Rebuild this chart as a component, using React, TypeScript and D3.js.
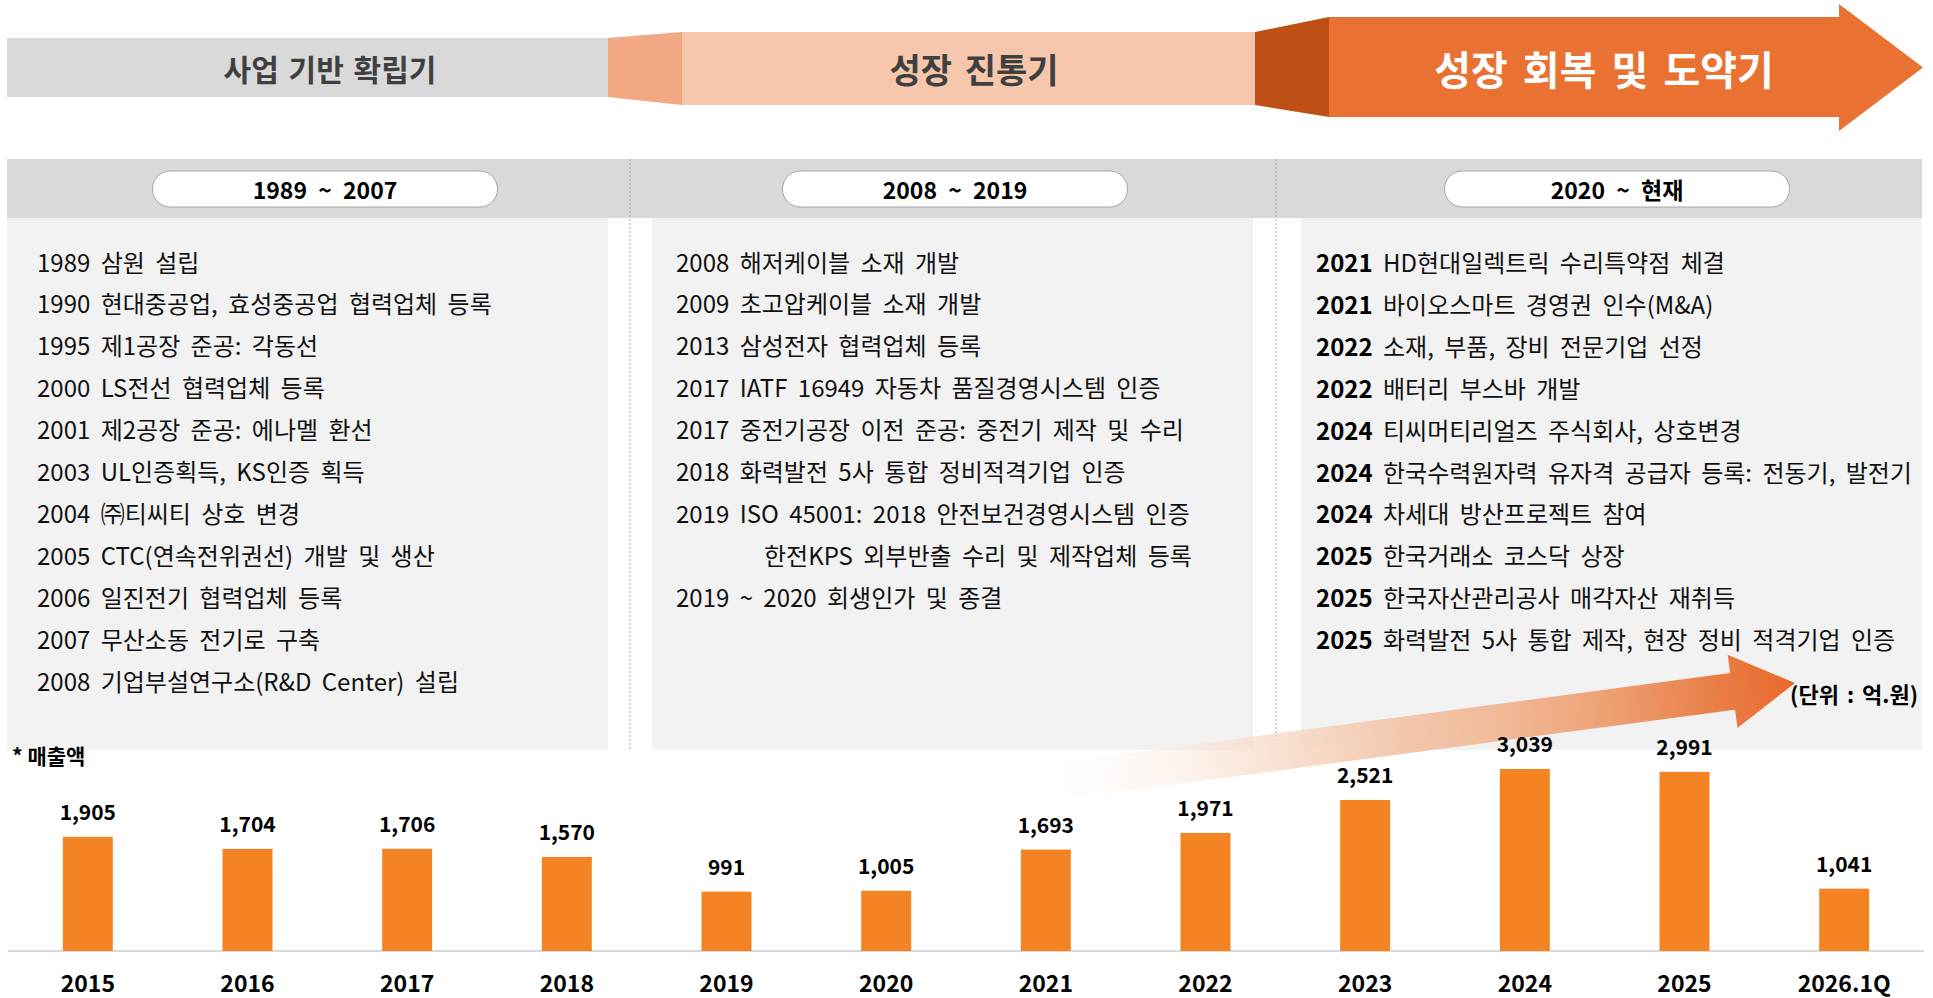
import React from 'react';
import * as d3 from 'd3';

// ---- data ----
const stageLabels = ['사업 기반 확립기', '성장 진통기', '성장 회복 및 도약기'];
const periodLabels = ['1989 ~ 2007', '2008 ~ 2019', '2020 ~ 현재'];

const history1 = [
  '1989 삼원 설립',
  '1990 현대중공업, 효성중공업 협력업체 등록',
  '1995 제1공장 준공: 각동선',
  '2000 LS전선 협력업체 등록',
  '2001 제2공장 준공: 에나멜 환선',
  '2003 UL인증획득, KS인증 획득',
  '2004 ㈜티씨티 상호 변경',
  '2005 CTC(연속전위권선) 개발 및 생산',
  '2006 일진전기 협력업체 등록',
  '2007 무산소동 전기로 구축',
  '2008 기업부설연구소(R&D Center) 설립',
];
const history2 = [
  '2008 해저케이블 소재 개발',
  '2009 초고압케이블 소재 개발',
  '2013 삼성전자 협력업체 등록',
  '2017 IATF 16949 자동차 품질경영시스템 인증',
  '2017 중전기공장 이전 준공: 중전기 제작 및 수리',
  '2018 화력발전 5사 통합 정비적격기업 인증',
  '2019 ISO 45001: 2018 안전보건경영시스템 인증',
  '한전KPS 외부반출 수리 및 제작업체 등록',
  '2019 ~ 2020 회생인가 및 종결',
];
const history2Indented = [false, false, false, false, false, false, false, true, false];
const history3Years = ['2021', '2021', '2022', '2022', '2024', '2024', '2024', '2025', '2025', '2025'];
const history3Texts = [
  'HD현대일렉트릭 수리특약점 체결',
  '바이오스마트 경영권 인수(M&A)',
  '소재, 부품, 장비 전문기업 선정',
  '배터리 부스바 개발',
  '티씨머티리얼즈 주식회사, 상호변경',
  '한국수력원자력 유자격 공급자 등록: 전동기, 발전기',
  '차세대 방산프로젝트 참여',
  '한국거래소 코스닥 상장',
  '한국자산관리공사 매각자산 재취득',
  '화력발전 5사 통합 제작, 현장 정비 적격기업 인증',
];

const years = ['2015', '2016', '2017', '2018', '2019', '2020', '2021', '2022', '2023', '2024', '2025', '2026.1Q'];
const sales = [1905, 1704, 1706, 1570, 991, 1005, 1693, 1971, 2521, 3039, 2991, 1041];

const unitLabel = '(단위 : 억.원)';
const salesTitle = '* 매출액';

const FONT = "'Noto Sans CJK KR', 'Noto Sans', sans-serif";

export default function App() {
  const W = 1933;
  const H = 998;
  const baseY = 951;
  const x = d3
    .scaleBand<string>()
    .domain(years)
    .range([8, 1924])
    .paddingInner(0.687)
    .paddingOuter(0.3435);
  const y = d3.scaleLinear().domain([0, 3000]).range([baseY, baseY - 3000 * 0.0599]);
  const fmt = d3.format(',');

  // big gradient arrow geometry (local coordinates, then rotated)
  const ax0 = 1045, ay0 = 783, ax1 = 1795, ay1 = 683;
  const L = Math.hypot(ax1 - ax0, ay1 - ay0);
  const ang = (Math.atan2(ay1 - ay0, ax1 - ax0) * 180) / Math.PI;
  const headLen = 63, shaftHalf = 18.5, headHalf = 37;
  const arrowPath = d3.line()([
    [0, -shaftHalf],
    [L - headLen, -shaftHalf],
    [L - headLen, -headHalf],
    [L, 0],
    [L - headLen, headHalf],
    [L - headLen, shaftHalf],
    [0, shaftHalf],
  ]) + 'Z';

  const lineY = (i: number) => 261 + i * 41.9;
  const panels = [
    { x0: 7, x1: 608 },
    { x0: 652, x1: 1253 },
    { x0: 1301, x1: 1922 },
  ];
  const pills = [
    { cx: 325, w: 345 },
    { cx: 955, w: 345 },
    { cx: 1617, w: 345 },
  ];
  const histFont = 24;
  const histWS = 5;

  return (
    <svg
      width={W}
      height={H}
      style={{ position: 'fixed', left: 0, top: 0, display: 'block', background: '#fff' }}
      fontFamily={FONT}
    >
      <defs>
        <linearGradient id="growGrad" x1="0" y1="0" x2="1" y2="0">
          <stop offset="0" stopColor="#FCE8DC" stopOpacity="0" />
          <stop offset="0.18" stopColor="#FAE0D0" stopOpacity="0.35" />
          <stop offset="0.31" stopColor="#F8DCC9" stopOpacity="0.85" />
          <stop offset="0.47" stopColor="#F3C8AE" stopOpacity="1" />
          <stop offset="0.6" stopColor="#F1BB9A" stopOpacity="1" />
          <stop offset="0.73" stopColor="#EEA57A" stopOpacity="1" />
          <stop offset="0.9" stopColor="#E97D45" stopOpacity="1" />
          <stop offset="1" stopColor="#E8692B" stopOpacity="1" />
        </linearGradient>
      </defs>

      {/* ---- top stage banner ---- */}
      <rect x={7} y={38} width={601} height={59} fill="#D9D9D9" />
      <polygon points="608,38 682,32 682,105 608,97" fill="#F2A883" />
      <rect x={682} y={32} width={573} height={73} fill="#F6C7AD" />
      <polygon points="1255,32 1329,17 1329,117 1255,105" fill="#BF5015" />
      <polygon points="1329,17 1839,17 1839,4 1923,67.5 1839,131 1839,117 1329,117" fill="#E97232" />
      <text x={330} y={68} fontSize={30} fontWeight={700} fill="#404040" textAnchor="middle" dominantBaseline="central" wordSpacing={3}>
        {stageLabels[0]}
      </text>
      <text x={974} y={68} fontSize={34} fontWeight={700} fill="#404040" textAnchor="middle" dominantBaseline="central" wordSpacing={5}>
        {stageLabels[1]}
      </text>
      <text x={1604} y={68} fontSize={40} fontWeight={700} fill="#FFFFFF" textAnchor="middle" dominantBaseline="central" wordSpacing={6}>
        {stageLabels[2]}
      </text>

      {/* ---- panels ---- */}
      <rect x={7} y={159} width={1915} height={59} fill="#D9D9D9" />
      {panels.map((p, i) => (
        <rect key={'pb' + i} x={p.x0} y={218} width={p.x1 - p.x0} height={532} fill="#F2F2F2" />
      ))}
      {[630, 1276].map((lx) => (
        <line key={'dl' + lx} x1={lx} x2={lx} y1={159} y2={750} stroke="#A6A6A6" strokeWidth={1} strokeDasharray="2,2" />
      ))}
      {pills.map((p, i) => (
        <g key={'pill' + i}>
          <rect x={p.cx - p.w / 2} y={171} width={p.w} height={36} rx={18} ry={18} fill="#FFFFFF" stroke="#A6A6A6" strokeWidth={1} />
          <text x={p.cx} y={189} fontSize={23} fontWeight={700} fill="#000" textAnchor="middle" dominantBaseline="central" wordSpacing={6}>
            {periodLabels[i]}
          </text>
        </g>
      ))}

      {history1.map((t, i) => (
        <text key={'h1' + i} x={37} y={lineY(i)} fontSize={histFont} wordSpacing={histWS} fill="#111" dominantBaseline="central">
          {t}
        </text>
      ))}
      {history2.map((t, i) => (
        <text
          key={'h2' + i}
          x={history2Indented[i] ? 764 : 676}
          y={lineY(i)}
          fontSize={histFont}
          wordSpacing={histWS}
          fill="#111"
          dominantBaseline="central"
        >
          {t}
        </text>
      ))}
      {history3Texts.map((t, i) => (
        <text key={'h3' + i} x={1316} y={lineY(i)} fontSize={histFont} wordSpacing={histWS} fill="#111" dominantBaseline="central">
          <tspan fontWeight={700} fill="#000">{history3Years[i]}</tspan>
          <tspan> {t}</tspan>
        </text>
      ))}

      {/* ---- growth arrow ---- */}
      <g transform={`translate(${ax0},${ay0}) rotate(${ang})`}>
        <path d={arrowPath} fill="url(#growGrad)" />
      </g>

      <text x={1918} y={693} fontSize={22} fontWeight={700} fill="#000" textAnchor="end" dominantBaseline="central" wordSpacing={3}>
        {unitLabel}
      </text>
      <text x={12} y={755} fontSize={21} fontWeight={700} fill="#000" dominantBaseline="central">
        {salesTitle}
      </text>

      {/* ---- sales bars ---- */}
      <line x1={8} x2={1924} y1={baseY} y2={baseY} stroke="#D9D9D9" strokeWidth={2} />
      {years.map((yr, i) => (
        <g key={'bar' + yr}>
          <rect x={x(yr)} y={y(sales[i])} width={x.bandwidth()} height={baseY - y(sales[i])} fill="#F48423" />
          <text
            x={(x(yr) as number) + x.bandwidth() / 2}
            y={y(sales[i]) - 26}
            fontSize={21}
            fontWeight={700}
            fill="#000"
            textAnchor="middle"
            dominantBaseline="central"
          >
            {fmt(sales[i])}
          </text>
          <text
            x={(x(yr) as number) + x.bandwidth() / 2}
            y={982}
            fontSize={23}
            fontWeight={700}
            fill="#000"
            textAnchor="middle"
            dominantBaseline="central"
          >
            {yr}
          </text>
        </g>
      ))}
    </svg>
  );
}
